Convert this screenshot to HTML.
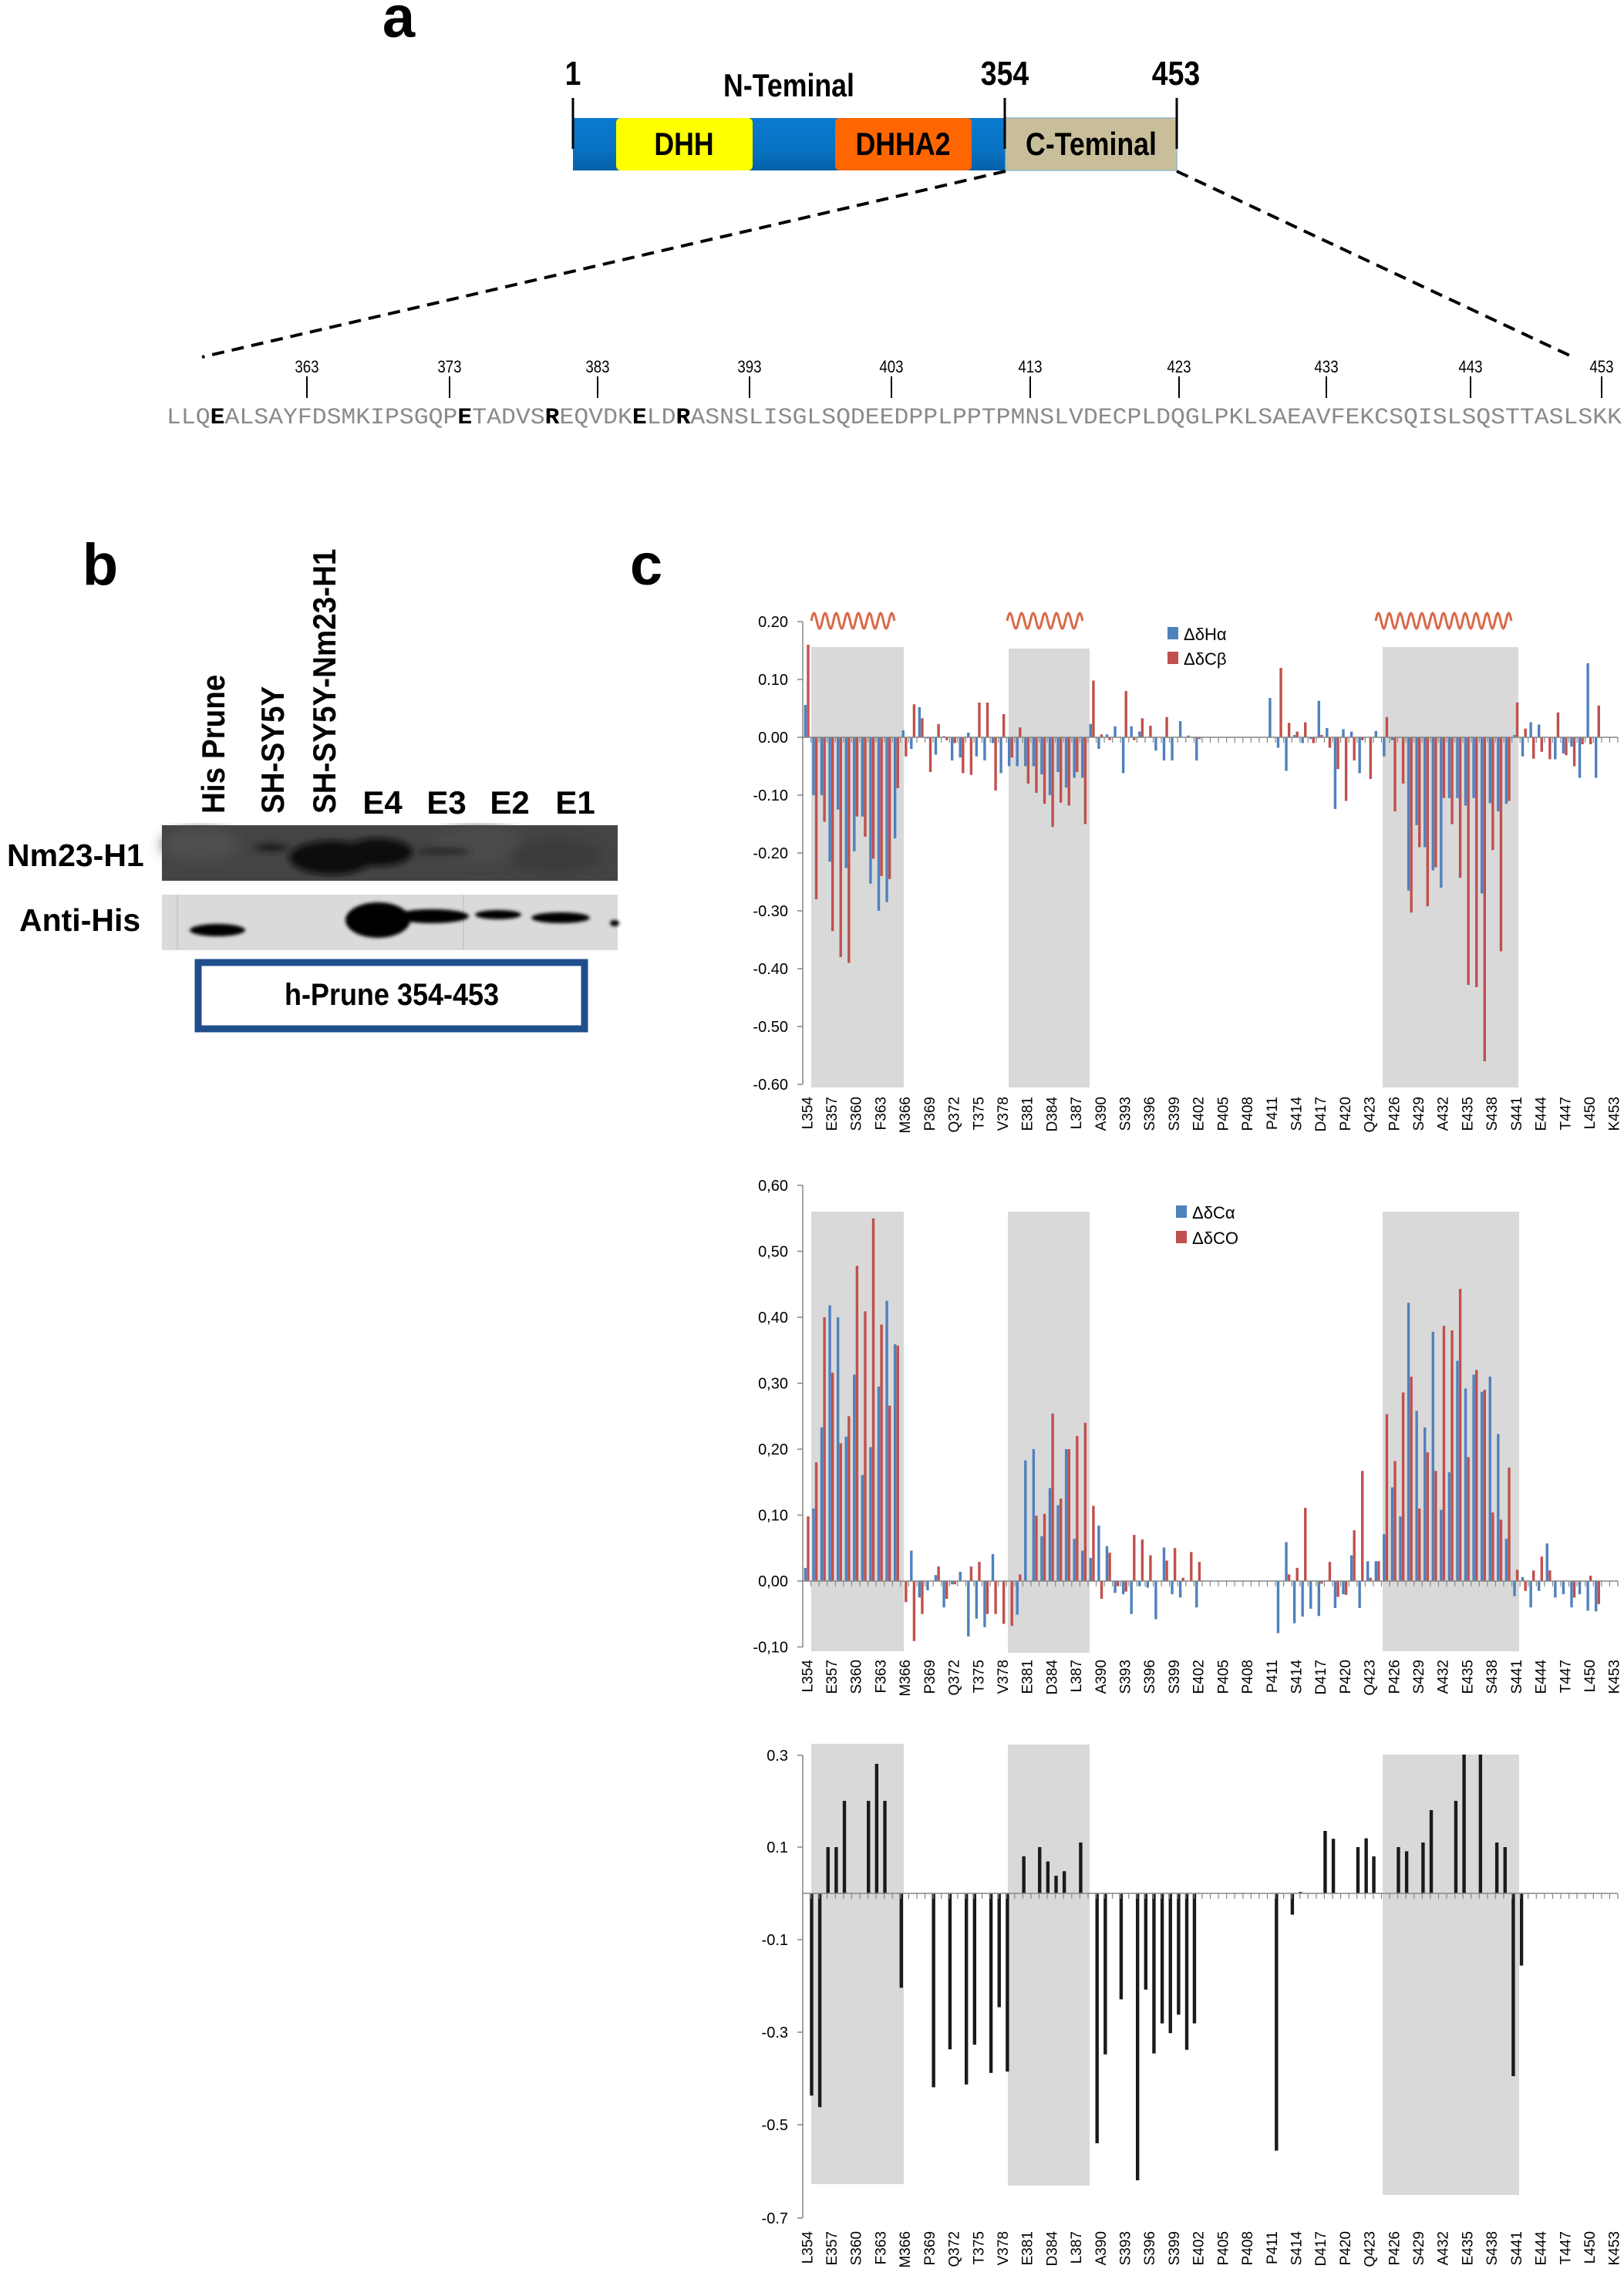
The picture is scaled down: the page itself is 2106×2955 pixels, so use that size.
<!DOCTYPE html>
<html><head><meta charset="utf-8">
<style>
html,body{margin:0;padding:0;background:#fff;}
svg{display:block;}
text{font-family:"Liberation Sans",sans-serif;}
</style></head>
<body>
<svg id="s" width="2106" height="2955" viewBox="0 0 2106 2955" xmlns="http://www.w3.org/2000/svg">
<defs>
<linearGradient id="bl" x1="0" y1="0" x2="0" y2="1">
<stop offset="0" stop-color="#0a7ad0"/><stop offset="0.6" stop-color="#0872c2"/><stop offset="1" stop-color="#0560a8"/>
</linearGradient>
<filter id="blur4"><feGaussianBlur stdDeviation="4"/></filter>
<filter id="blur2"><feGaussianBlur stdDeviation="2"/></filter>
<filter id="blur8"><feGaussianBlur stdDeviation="8"/></filter>
</defs>

<!-- Panel a -->
<text x="517" y="48" font-size="76" font-weight="bold" text-anchor="middle">a</text>
<rect x="743" y="153" width="783" height="68" fill="url(#bl)"/>
<rect x="799" y="153" width="177" height="68" rx="6" fill="#ffff00"/>
<rect x="1083" y="153" width="177" height="68" rx="6" fill="#ff6600"/>
<rect x="1304" y="153" width="222" height="68" fill="#c8bf9a" stroke="#8fb5c8" stroke-width="1.5"/>
<g font-weight="bold" text-anchor="middle">
<text x="887" y="201" font-size="42" transform="translate(887 0) scale(0.85 1) translate(-887 0)">DHH</text>
<text x="1171" y="201" font-size="42" transform="translate(1171 0) scale(0.85 1) translate(-1171 0)">DHHA2</text>
<text x="1415" y="201" font-size="42" transform="translate(1415 0) scale(0.85 1) translate(-1415 0)">C-Teminal</text>
<text x="1023" y="125" font-size="42" transform="translate(1023 0) scale(0.85 1) translate(-1023 0)">N-Teminal</text>
<text x="743" y="110" font-size="44" transform="translate(743 0) scale(0.85 1) translate(-743 0)">1</text>
<text x="1303" y="110" font-size="44" transform="translate(1303 0) scale(0.85 1) translate(-1303 0)">354</text>
<text x="1525" y="110" font-size="44" transform="translate(1525 0) scale(0.85 1) translate(-1525 0)">453</text>
</g>
<line x1="743" y1="127" x2="743" y2="193" stroke="#000" stroke-width="3"/>
<line x1="1303" y1="127" x2="1303" y2="193" stroke="#000" stroke-width="3"/>
<line x1="1526" y1="127" x2="1526" y2="193" stroke="#000" stroke-width="3"/>
<line x1="1304" y1="222" x2="262" y2="463" stroke="#000" stroke-width="4" stroke-dasharray="16 10"/>
<line x1="1526" y1="222" x2="2040" y2="463" stroke="#000" stroke-width="4" stroke-dasharray="16 10"/>

<g id="seqticks"></g>
<text x="216" y="549" font-size="30" fill="#8a8a8a" textLength="1887" lengthAdjust="spacingAndGlyphs" style="font-family:'Liberation Mono',monospace">LLQ<tspan fill="#000" font-weight="bold">E</tspan>ALSAYFDSMKIPSGQP<tspan fill="#000" font-weight="bold">E</tspan>TADVS<tspan fill="#000" font-weight="bold">R</tspan>EQVDK<tspan fill="#000" font-weight="bold">E</tspan>LD<tspan fill="#000" font-weight="bold">R</tspan>ASNSLISGLSQDEEDPPLPPTPMNSLVDECPLDQGLPKLSAEAVFEKCSQISLSQSTTASLSKK</text>

<!-- Panel b -->
<text x="130" y="758" font-size="76" font-weight="bold" text-anchor="middle">b</text>
<text x="838" y="758" font-size="76" font-weight="bold" text-anchor="middle">c</text>
<g font-weight="bold" font-size="42">
<text transform="translate(291 1055) rotate(-90) scale(0.92 1)">His Prune</text>
<text transform="translate(368 1055) rotate(-90) scale(0.92 1)">SH-SY5Y</text>
<text transform="translate(435 1055) rotate(-90) scale(0.92 1)">SH-SY5Y-Nm23-H1</text>
<text x="496" y="1055" text-anchor="middle">E4</text>
<text x="579" y="1055" text-anchor="middle">E3</text>
<text x="661" y="1055" text-anchor="middle">E2</text>
<text x="746" y="1055" text-anchor="middle">E1</text>
<text x="9" y="1123" font-size="41">Nm23-H1</text>
<text x="25" y="1207" font-size="41">Anti-His</text>
</g>
<rect x="210" y="1070" width="591" height="72" fill="#444"/>
<g filter="url(#blur8)">
<ellipse cx="260" cy="1095" rx="50" ry="20" fill="#505050"/>
<ellipse cx="620" cy="1095" rx="60" ry="22" fill="#4c4c4c"/>
<ellipse cx="720" cy="1110" rx="60" ry="22" fill="#3a3a3a"/>
</g>
<g filter="url(#blur4)">
<ellipse cx="352" cy="1099" rx="22" ry="5" fill="#1a1a1a"/>
<ellipse cx="430" cy="1112" rx="55" ry="22" fill="#0e0e0e"/>
<ellipse cx="490" cy="1105" rx="45" ry="18" fill="#101010"/>
<ellipse cx="575" cy="1104" rx="35" ry="5" fill="#2a2a2a"/>
</g>
<rect x="210" y="1160" width="591" height="72" fill="#dadada"/>
<line x1="230" y1="1160" x2="230" y2="1232" stroke="#bbb" stroke-width="1"/>
<line x1="601" y1="1160" x2="601" y2="1232" stroke="#bbb" stroke-width="1"/>
<g filter="url(#blur2)">
<ellipse cx="282" cy="1206" rx="36" ry="8" fill="#000"/>
<ellipse cx="490" cy="1193" rx="42" ry="23" fill="#000"/>
<ellipse cx="560" cy="1188" rx="48" ry="9" fill="#000"/>
<ellipse cx="646" cy="1186" rx="30" ry="6" fill="#000"/>
<ellipse cx="727" cy="1190" rx="38" ry="7" fill="#000"/>
<ellipse cx="797" cy="1197" rx="6" ry="4" fill="#000"/>
</g>
<rect x="257" y="1248" width="501" height="86" fill="#fff" stroke="#1f4e8c" stroke-width="9"/>
<text x="508" y="1303" font-size="40" font-weight="bold" text-anchor="middle" transform="translate(508 0) scale(0.9 1) translate(-508 0)">h-Prune 354-453</text>

<g id="charts"></g>
</svg>
<script>
(function(){
var NS="http://www.w3.org/2000/svg";
function el(p,n,a,t){var e=document.createElementNS(NS,n);for(var k in a)e.setAttribute(k,a[k]);if(t!==undefined)e.textContent=t;p.appendChild(e);return e;}
var st=document.getElementById('seqticks');
var tk=[[363,398],[373,583],[383,775],[393,972],[403,1156],[413,1336],[423,1529],[433,1720],[443,1907],[453,2077]];
tk.forEach(function(t){
 el(st,'text',{x:t[1],y:483,'font-size':22,'text-anchor':'middle',transform:'translate('+t[1]+' 0) scale(0.85 1) translate('+(-t[1])+' 0)'},String(t[0]));
 el(st,'line',{x1:t[1],y1:488,x2:t[1],y2:516,stroke:'#000','stroke-width':2});
});
var g=document.getElementById('charts');
var X0=1041, STEP=10.57, XEND=2098;
var labs="L354 E357 S360 F363 M366 P369 Q372 T375 V378 E381 D384 L387 A390 S393 S396 S399 E402 P405 P408 P411 S414 D417 P420 Q423 P426 S429 A432 E435 S438 S441 E444 T447 L450 K453".split(" ");
function axes(y0,ytop,ybot,yt,labTop){
 el(g,'line',{x1:X0,y1:ytop,x2:X0,y2:ybot,stroke:'#868686','stroke-width':1.5});
 yt.forEach(function(v){el(g,'line',{x1:X0-7,y1:v[1],x2:X0,y2:v[1],stroke:'#868686','stroke-width':1.5});
  el(g,'text',{x:1022,y:v[1]+7,'font-size':20,'text-anchor':'end'},v[0]);});
 el(g,'line',{x1:X0,y1:y0,x2:XEND,y2:y0,stroke:'#868686','stroke-width':1.5});
 for(var k=1;k<=100;k++){var x=X0+k*STEP;el(g,'line',{x1:x,y1:y0,x2:x,y2:y0+7,stroke:'#868686','stroke-width':1.2});}
 for(var j=0;j<labs.length;j++){var x=X0+(j*3+0.5)*STEP+7;
  el(g,'text',{'font-size':19,'text-anchor':'end',transform:'translate('+x+' '+labTop+') rotate(-90)'},labs[j]);}
}
function boxes(arr){arr.forEach(function(b){el(g,'rect',{x:b[0],y:b[1],width:b[2]-b[0],height:b[3]-b[1],fill:'#d9d9d9'});});}
var c1y0=956,c1s=750;
boxes([[1052,839,1172,1410],[1308,841,1413,1410],[1793,839,1969,1410]]);
var B1=[0.056,-0.10,-0.10,-0.215,-0.125,-0.226,-0.197,-0.137,-0.253,-0.30,-0.285,-0.175,0.012,-0.02,0.052,-0.002,-0.03,0.002,-0.04,-0.035,0.008,-0.033,-0.04,-0.01,-0.062,-0.05,-0.05,-0.05,-0.05,-0.064,-0.10,-0.06,-0.087,-0.07,-0.07,0.023,-0.02,0.005,0.019,-0.062,0.019,0.01,0,-0.023,-0.04,-0.04,0.028,0.003,-0.04,0,0,0,0,0,0,0,0,0.068,-0.018,-0.058,0.004,-0.01,-0.003,0.063,0.016,-0.124,0.014,0.01,-0.062,0,0.011,-0.033,-0.005,0,-0.265,-0.152,-0.19,-0.23,-0.26,-0.105,-0.105,-0.118,-0.105,-0.27,-0.114,-0.128,-0.115,0.004,-0.033,0.026,0.022,0,-0.038,-0.028,-0.016,-0.07,0.128,-0.07,0,0];
var R1=[0.16,-0.28,-0.146,-0.335,-0.38,-0.39,-0.137,-0.172,-0.21,-0.24,-0.245,-0.088,-0.033,0.057,0.033,-0.06,0.023,-0.005,-0.01,-0.062,-0.065,0.06,0.06,-0.092,0.04,-0.035,0.017,-0.08,-0.096,-0.115,-0.155,-0.113,-0.118,-0.06,-0.15,0.098,0.005,-0.005,0,0.08,-0.005,0.033,0.02,0,0.035,0,0,0,-0.003,0,0,0,0,0,0,0,0,0,0.12,0.025,0.01,0.026,-0.01,0.004,-0.018,-0.055,-0.11,-0.04,-0.005,-0.072,0,0.035,-0.128,-0.08,-0.303,-0.19,-0.292,-0.225,-0.105,-0.15,-0.243,-0.428,-0.432,-0.56,-0.195,-0.37,-0.11,0.06,0.015,-0.037,-0.025,-0.038,0.043,-0.031,-0.05,-0.012,-0.012,0.055,0,0];
function pairs(B,R,y0,s){for(var i=0;i<100;i++){var cx=X0+(i+0.5)*STEP;
 [[B[i],'#4f81bd',cx-3.6],[R[i],'#c0504d',cx]].forEach(function(p){var v=p[0];if(!v)return;var h=Math.abs(v)*s;
  el(g,'rect',{x:p[2],y:v>0?y0-h:y0,width:3.4,height:h,fill:p[1]});});}}
pairs(B1,R1,c1y0,c1s);
axes(c1y0,806,1406,[["0.20",806],["0.10",881],["0.00",956],["-0.10",1031],["-0.20",1106],["-0.30",1181],["-0.40",1256],["-0.50",1331],["-0.60",1406]],1422);
function helix(x1,x2,n,yc){var d='M'+x1+' '+yc,N=200;for(var k=1;k<=N;k++){var x=x1+(x2-x1)*k/N;var y=yc-10*Math.sin(Math.PI*2*n*k/N);d+=' L'+x.toFixed(1)+' '+y.toFixed(1);}
 el(g,'path',{d:d,fill:'none',stroke:'#d9694a','stroke-width':3});}
helix(1052,1160,7.5,805);helix(1306,1404,6.5,805);helix(1784,1960,12.5,805);
el(g,'rect',{x:1514,y:813,width:14,height:16,fill:'#4f81bd'});
el(g,'rect',{x:1514,y:845,width:14,height:16,fill:'#c0504d'});
el(g,'text',{x:1535,y:830,'font-size':22},'ΔδHα');
el(g,'text',{x:1535,y:862,'font-size':22},'ΔδCβ');
var c2y0=2050,c2s=855;
boxes([[1052,1571,1172,2141],[1307,1571,1413,2143],[1793,1571,1970,2141]]);
var B2=[0.02,0.11,0.233,0.418,0.40,0.219,0.313,0.161,0.203,0.295,0.425,0.359,0,0.046,-0.025,-0.014,0.009,-0.04,-0.005,0.014,-0.084,-0.057,-0.07,0.041,0,0,-0.051,0.183,0.2,0.068,0.141,0.115,0.2,0.064,0.046,0.035,0.084,0.053,-0.018,-0.02,-0.05,-0.008,-0.01,-0.058,0.051,-0.02,-0.025,0,-0.04,0,0,0,0,0,0,0,0,0,-0.079,0.059,-0.064,-0.054,-0.042,-0.053,0.001,-0.041,-0.02,0.039,-0.041,0.03,0.03,0.071,0.142,0.098,0.422,0.258,0.233,0.378,0.108,0.165,0.334,0.292,0.313,0.287,0.31,0.223,0.064,-0.023,0.006,-0.04,-0.015,0.057,-0.025,-0.02,-0.04,-0.02,-0.045,-0.046,0,0];
var R2=[0.098,0.18,0.40,0.316,0.209,0.25,0.478,0.409,0.55,0.389,0.266,0.357,-0.032,-0.091,-0.05,0,0.022,-0.027,-0.005,0,0.022,0.029,-0.05,-0.05,-0.065,-0.068,0.01,0,0.099,0.102,0.254,0.125,0.2,0.22,0.24,0.114,-0.027,0.043,-0.008,-0.016,0.07,0.063,0.039,0,0.031,0.05,0.005,0.044,0.029,0,0,0,0,0,0,0,0,0,0,0.01,0.02,0.111,0,-0.004,0.029,-0.024,-0.021,0.077,0.167,0.005,0.03,0.253,0.182,0.286,0.31,0.11,0.195,0.167,0.387,0.38,0.443,0.188,0.32,0.29,0.104,0.093,0.172,0.017,-0.015,0.016,0.037,0.016,0,0,-0.025,0,0.008,-0.035,0,0];
pairs(B2,R2,c2y0,c2s);
var lab2=["0,60","0,50","0,40","0,30","0,20","0,10","0,00","-0,10"];
var yt2=[];for(var k=0;k<=7;k++){yt2.push([lab2[k],1537+k*85.5]);}
axes(c2y0,1537,2136,yt2,2152);
el(g,'rect',{x:1525,y:1563,width:14,height:16,fill:'#4f81bd'});
el(g,'rect',{x:1525,y:1596,width:14,height:16,fill:'#c0504d'});
el(g,'text',{x:1546,y:1580,'font-size':22},'ΔδCα');
el(g,'text',{x:1546,y:1613,'font-size':22},'ΔδCO');
var c3y0=2455,c3s=600;
boxes([[1052,2261,1172,2832],[1307,2262,1413,2834],[1793,2275,1970,2846]]);
var bars3=[[74,-0.437],[89,-0.462],[104,0.1],[119,0.1],[134,0.2],[178,0.2],[193,0.28],[208,0.2],[238,-0.204],[297,-0.419],[327,-0.337],[357,-0.413],[372,-0.327],[402,-0.388],[417,-0.246],[432,-0.385],[462,0.08],[491,0.1],[506,0.069],[521,0.038],[536,0.048],[566,0.11],[596,-0.54],[611,-0.348],[640,-0.229],[670,-0.62],[685,-0.208],[700,-0.346],[715,-0.281],[730,-0.302],[745,-0.262],[760,-0.338],[774,-0.281],[924,-0.556],[953,-0.046],[968,0.003],[1013,0.135],[1028,0.118],[1073,0.1],[1088,0.119],[1102,0.08],[1147,0.1],[1162,0.091],[1192,0.11],[1207,0.18],[1252,0.2],[1267,0.3],[1297,0.3],[1327,0.11],[1342,0.1],[1357,-0.395],[1372,-0.156]];
bars3.forEach(function(b){var x=1000+b[0]/1.41;var h=Math.abs(b[1])*c3s;
 el(g,'rect',{x:x-2.2,y:b[1]>0?c3y0-h:c3y0,width:4.4,height:h,fill:'#1a1a1a'});});
axes(c3y0,2276,2876,[["0.3",2276],["0.1",2395],["-0.1",2515],["-0.3",2635],["-0.5",2755],["-0.7",2876]],2893);
})();
</script>
</body></html>
